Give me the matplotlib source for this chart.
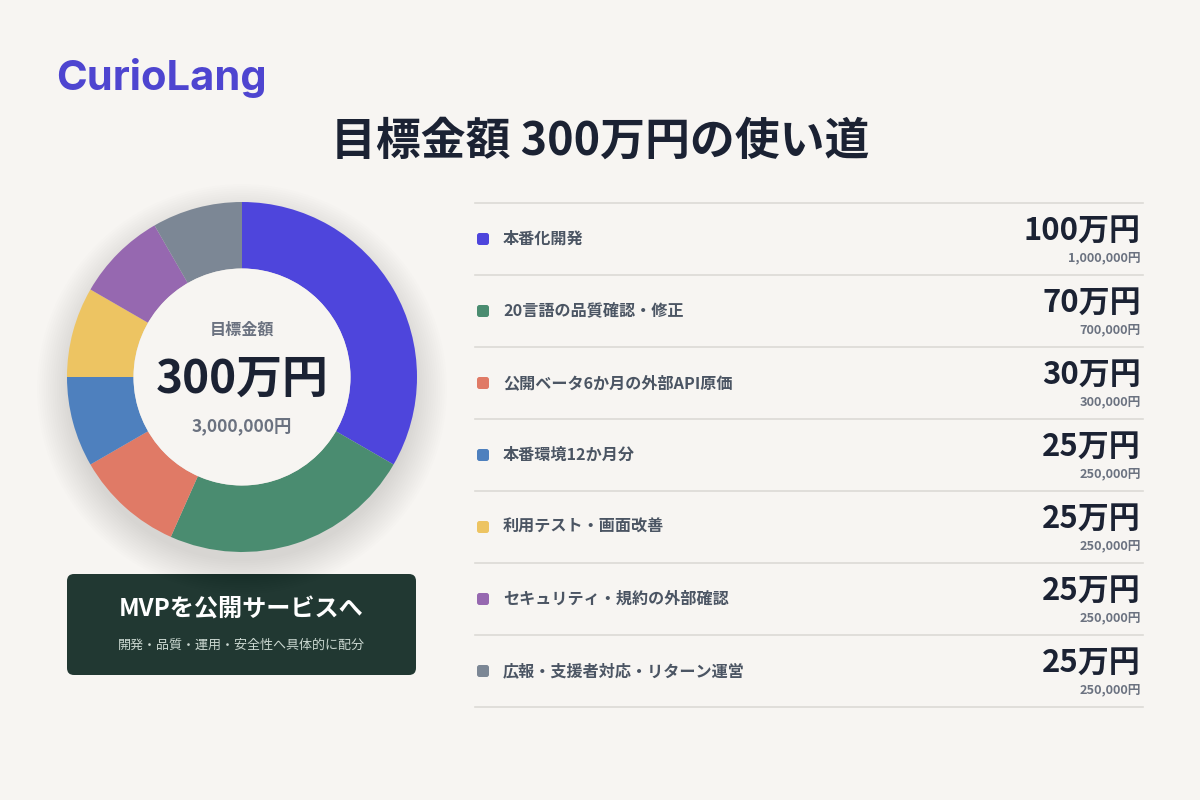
import matplotlib.pyplot as plt
from matplotlib.patches import FancyBboxPatch, Circle

plt.rcParams['font.family'] = ['Noto Sans CJK JP', 'DejaVu Sans']

# 予算の内訳（万円）
categories = ['本番化開発', '20言語の品質確認・修正', '公開ベータ6か月の外部API原価',
              '本番環境12か月分', '利用テスト・画面改善', 'セキュリティ・規約の外部確認',
              '広報・支援者対応・リターン運営']
amounts = [100, 70, 30, 25, 25, 25, 25]
colors = ['#4E45DC', '#4A8C70', '#E07A66', '#4E80BE', '#EDC462', '#9668B0', '#7C8795']
total = sum(amounts)

bg = '#F7F5F2'
dark = '#1B2233'
grey = '#6B7280'

fig = plt.figure(figsize=(12, 8), dpi=100)
fig.patch.set_facecolor(bg)

# ピクセル座標の全面軸
ax = fig.add_axes([0, 0, 1, 1])
ax.set_xlim(0, 1200)
ax.set_ylim(800, 0)
ax.axis('off')

ax.text(56, 78, 'CurioLang', fontsize=30, fontweight='bold', color='#4E45D0',
        family=['Inter', 'DejaVu Sans'], va='center', ha='left')
ax.text(600, 142, '目標金額 300万円の使い道', fontsize=32.3, fontweight='bold',
        color=dark, ha='center', va='center')

# 右側のリスト
x0, x1 = 475, 1143
top, row_h = 203, 72
for i, (cat, amt, c) in enumerate(zip(categories, amounts, colors)):
    y = top + i * row_h
    ax.plot([x0, x1], [y, y], color='#DCDAD6', lw=1.2)
    yc = y + row_h / 2
    ax.add_patch(FancyBboxPatch((477, yc - 6), 12, 12, boxstyle='round,pad=0,rounding_size=2.5',
                                fc=c, ec='none'))
    ax.text(503, yc, cat, fontsize=11.6, fontweight='bold', color='#4B5563',
            ha='left', va='center')
    ax.text(x1 - 2, yc - 8, f'{amt}万円', fontsize=22.3, fontweight='bold', color=dark,
            ha='right', va='center')
    ax.text(x1 - 2, yc + 19, f'{amt * 10000:,}円', fontsize=9.2, fontweight='bold', color=grey,
            ha='right', va='center')
ax.plot([x0, x1], [top + 7 * row_h, top + 7 * row_h], color='#DCDAD6', lw=1.2)

# 下のボックス
ax.add_patch(FancyBboxPatch((67, 574), 349, 101, boxstyle='round,pad=0,rounding_size=7',
                            fc='#213832', ec='none'))
ax.text(241.5, 610, 'MVPを公開サービスへ', fontsize=17.4, fontweight='bold', color='white',
        ha='center', va='center')
ax.text(241.5, 645, '開発・品質・運用・安全性へ具体的に配分', fontsize=9.4, color='#C9D6CF',
        ha='center', va='center')

# ドーナツ
cx, cy, r = 242, 377, 175
pad = 45
pax = fig.add_axes([(cx - r - pad) / 1200, (800 - cy - r - pad) / 800,
                    (2 * r + 2 * pad) / 1200, (2 * r + 2 * pad) / 800])
pax.set_facecolor('none')

# 影
for k in range(16):
    pax.add_patch(Circle((0, -12), r + 30 - k * 2.2, fc='#000000', ec='none', alpha=0.008))

pax.pie(amounts, colors=colors, radius=r, startangle=90, counterclock=False,
        wedgeprops=dict(width=r - 108.5, edgecolor='none'), center=(0, 0), frame=True)
pax.set_xlim(-r - pad, r + pad)
pax.set_ylim(-r - pad, r + pad)
pax.set_aspect('equal')
pax.axis('off')
pax.add_patch(Circle((0, 0), 108.5, fc=bg, ec='none', zorder=3))

pax.text(0, 47, '目標金額', fontsize=11.6, fontweight='bold', color=grey, ha='center', va='center', zorder=5)
pax.text(0, -3, f'{total}万円', fontsize=33, fontweight='bold', color=dark,
         ha='center', va='center', zorder=5)
pax.text(0, -49, f'{total * 10000:,}円', fontsize=12.5, fontweight='bold', color=grey,
         ha='center', va='center', zorder=5)

fig.savefig('out.png', dpi=100, facecolor=bg)
